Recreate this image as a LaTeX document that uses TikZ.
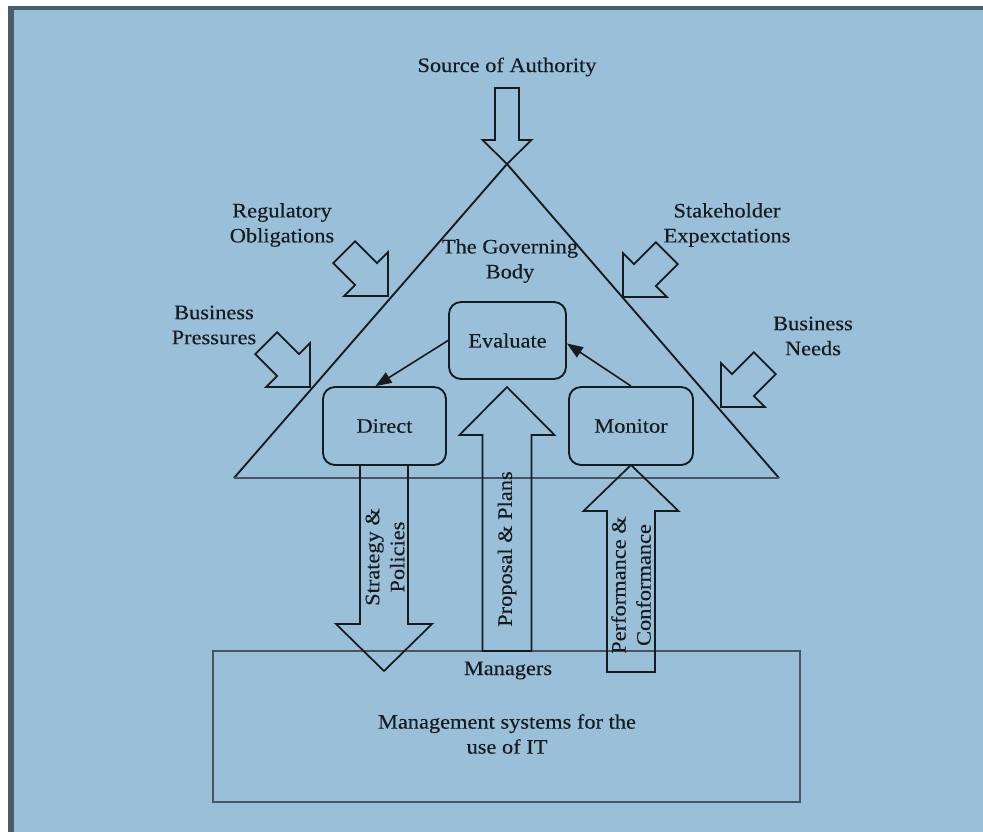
\documentclass[tikz,border=0pt]{standalone}
\usepackage{fontspec}
\setmainfont{Liberation Serif}[FakeStretch=1.09, FakeBold=0.2]
\usetikzlibrary{arrows.meta,calc}
\definecolor{bgblue}{HTML}{99BFD9}
\definecolor{framecol}{HTML}{4A5E6A}
\definecolor{ink}{HTML}{161B1E}
\definecolor{grayline}{HTML}{46555F}
\newcommand\blockarrow[6]{%
  \draw[arrowline, shift={(#1)}, rotate=#2]
    (0,0) -- (-#4,#5) -- (-#4,#6) -- (-#3,#6) -- (-#3,-#6) -- (-#4,-#6) -- (-#4,-#5) -- cycle;}
\begin{document}
\begin{tikzpicture}[x=0.75pt,y=-0.75pt,
  lbl/.style={font=\fontsize{15.4}{18.75}\selectfont, text=ink, align=center, inner sep=0pt},
  rbox/.style={draw=ink, line width=1.4pt, rounded corners=9pt, inner sep=0pt,
    font=\fontsize{15.4}{18.75}\selectfont, text=ink},
  arrowline/.style={draw=ink, line width=1.3pt, line join=miter},
  conn/.style={draw=ink, line width=1.2pt, -{Triangle[length=12pt,width=9pt]}}]
\useasboundingbox (0,0) rectangle (983,832);
\fill[white] (0,0) rectangle (983,832);
\fill[framecol] (8,6) rectangle (983,832);
\fill[bgblue] (13.5,10) rectangle (983,832);

% triangle
\draw[ink, line width=1.4pt, line join=miter] (234,478) -- (507,164) -- (779,478);
\draw[grayline, line width=2.2pt] (234,478) -- (779,478);

% management box
\node[draw=grayline, line width=2.2pt, minimum width=440.25pt, minimum height=113.25pt, inner sep=0pt] (mg) at (506.5,726.5) {};
\node[lbl, anchor=base] (mgr) at (508,675) {Managers};
\node[lbl] (mgs) at (507,734) {Management systems for the\\use of IT};

% rounded boxes
\node[rbox, minimum width=87.75pt, minimum height=57.75pt] (ev) at (507.5,340.5) {Evaluate};
\node[rbox, minimum width=92.25pt, minimum height=58.5pt] (di) at (384.5,426) {Direct};
\node[rbox, minimum width=93pt, minimum height=58.5pt] (mo) at (631,426) {Monitor};

\draw[conn] (ev.west) -- ($(di.north)+(-9,0)$);
\draw[conn] (mo.north) -- ($(ev.east)+(0,3)$);

% block arrows: tip, angle, length, head length, head half width, shaft half width
\blockarrow{507,164}{-90}{76}{24}{24.5}{12}
\blockarrow{388,296}{-45}{62}{31}{31}{15.5}
\blockarrow{310,387}{-45}{62}{31}{31}{15.5}
\blockarrow{623,297}{-135}{62}{31}{31}{15.5}
\blockarrow{721,407}{-135}{62}{31}{31}{15.5}
\blockarrow{507,387}{90}{264}{48}{47.5}{24.5}
\blockarrow{384,671}{-90}{206}{47}{48}{24}
\blockarrow{631,465}{90}{207}{46}{47.5}{24}

% labels
\node[lbl, anchor=base] (soa) at (507,72) {Source of Authority};
\node[lbl] (reg) at (282,225) {Regulatory\\Obligations};
\node[lbl] (bpr) at (214,325) {Business\\Pressures};
\node[lbl] (gov) at (510,261) {The Governing\\Body};
\node[lbl] (stk) at (727,225) {Stakeholder\\Expexctations};
\node[lbl] (bne) at (813,336) {Business\\Needs};

\node[lbl, rotate=90] (sp) at (385,557) {Strategy \&\\Policies};
\node[lbl, rotate=90] (pp) at (507,549) {Proposal \& Plans};
\node[lbl, rotate=90] (pc) at (631,585) {Performance \&\\Conformance};
\end{tikzpicture}
\end{document}
